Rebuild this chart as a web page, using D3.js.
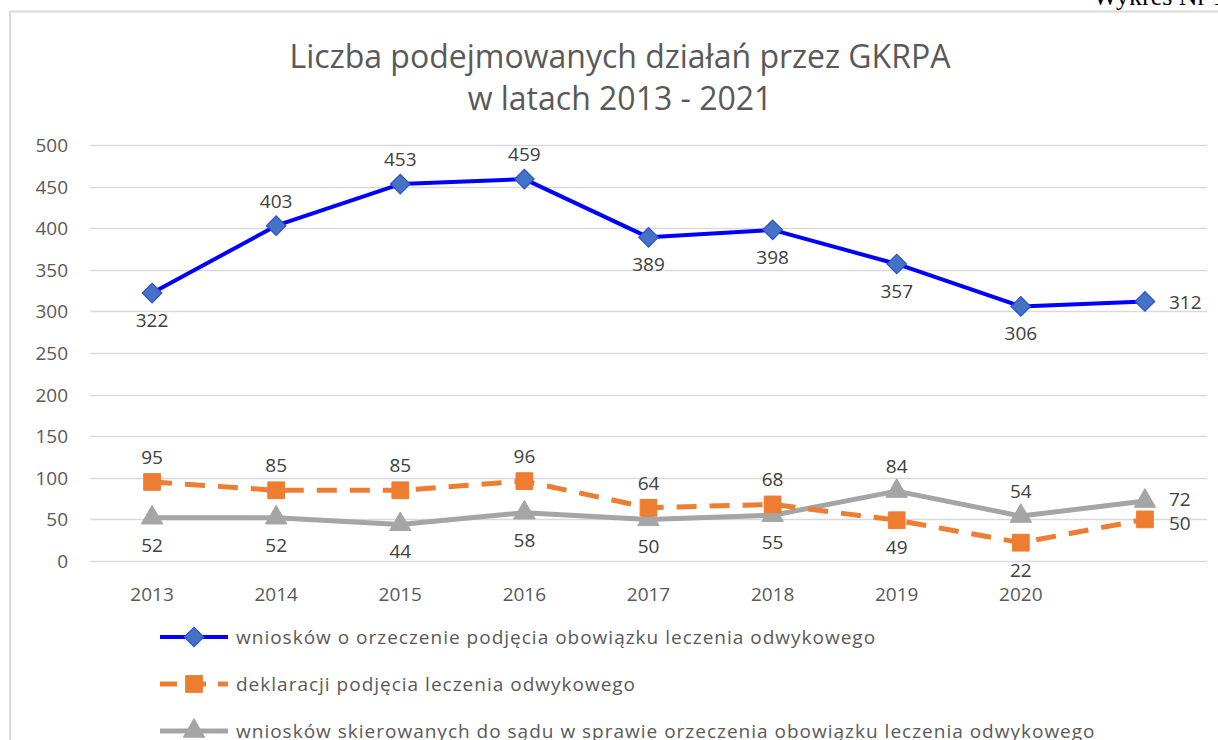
<!DOCTYPE html>
<html>
<head>
<meta charset="utf-8">
<script src="https://cdn.jsdelivr.net/npm/d3@7"></script>
<style>
  body { margin: 0; background: #fff; }
  svg { display: block; }
</style>
</head>
<body>
<div id="chart"></div>
<script>
var years = ['2013', '2014', '2015', '2016', '2017', '2018', '2019', '2020', ''];
var yTicks = [0, 50, 100, 150, 200, 250, 300, 350, 400, 450, 500];

var wnioskiOrzeczenie = [322, 403, 453, 459, 389, 398, 357, 306, 312];
var deklaracje = [95, 85, 85, 96, 64, 68, 49, 22, 50];
var wnioskiSad = [52, 52, 44, 58, 50, 55, 84, 54, 72];

// where each value label sits relative to its point
var posOrzeczenie = ['below', 'above', 'above', 'above', 'below', 'below', 'below', 'below', 'right'];
var posDeklaracje = ['above', 'above', 'above', 'above', 'above', 'above', 'below', 'below', 'right'];
var posSad = ['below', 'below', 'below', 'below', 'below', 'below', 'above', 'above', 'right'];

var titleLines = ['Liczba podejmowanych działań przez GKRPA', 'w latach 2013 - 2021'];

var series = [
  { name: 'wniosków o orzeczenie podjęcia obowiązku leczenia odwykowego',
    values: wnioskiOrzeczenie, pos: posOrzeczenie, rightShift: 0,
    color: '#0000ff', width: 4, dash: null, marker: 'diamond',
    fill: '#4472c4', stroke: '#2e4fd0' },
  { name: 'deklaracji podjęcia leczenia odwykowego',
    values: deklaracje, pos: posDeklaracje, rightShift: 3,
    color: '#ed7d31', width: 5, dash: '20,13', marker: 'square',
    fill: '#ed7d31', stroke: '#ed7d31' },
  { name: 'wniosków skierowanych do sądu w sprawie orzeczenia obowiązku leczenia odwykowego',
    values: wnioskiSad, pos: posSad, rightShift: -3,
    color: '#a5a5a5', width: 5, dash: null, marker: 'triangle',
    fill: '#a5a5a5', stroke: '#a5a5a5' }
];

var W = 1218, H = 740;
var font = '"Open Sans", sans-serif';
var margin = { top: 145, left: 90, right: 11, bottom: 179 };

var svg = d3.select('#chart').append('svg')
  .attr('width', W)
  .attr('height', H)
  .style('font-family', font);

// frame of the chart box (cut by the page edges)
svg.append('line').attr('x1', 10).attr('x2', W).attr('y1', 11.5).attr('y2', 11.5)
  .attr('stroke', '#d9d9d9').attr('stroke-width', 2);
svg.append('line').attr('x1', 10).attr('x2', 10).attr('y1', 11).attr('y2', H)
  .attr('stroke', '#d9d9d9').attr('stroke-width', 2);

svg.append('text')
  .attr('x', 1093).attr('y', 5)
  .attr('font-family', '"Liberation Serif", serif')
  .attr('font-size', 26)
  .attr('fill', '#000')
  .text('Wykres Nr 1');

svg.append('text')
  .attr('text-anchor', 'middle')
  .attr('font-size', 32)
  .attr('fill', '#595959')
  .selectAll('tspan')
  .data(titleLines)
  .enter()
  .append('tspan')
  .attr('x', 620)
  .attr('y', function (d, i) { return 68 + i * 42; })
  .text(function (d) { return d; });

var x = d3.scaleBand().domain(d3.range(years.length))
  .range([margin.left, W - margin.right]).padding(0);
var y = d3.scaleLinear().domain([0, 500])
  .range([H - margin.bottom, margin.top]);
var cx = function (i) { return x(i) + x.bandwidth() / 2; };

svg.append('g')
  .selectAll('line')
  .data(yTicks)
  .enter()
  .append('line')
  .attr('x1', margin.left).attr('x2', W - margin.right)
  .attr('y1', function (d) { return Math.round(y(d)) + 0.5; })
  .attr('y2', function (d) { return Math.round(y(d)) + 0.5; })
  .attr('stroke', '#d9d9d9')
  .attr('stroke-width', 1.5);

svg.append('g')
  .selectAll('text')
  .data(yTicks)
  .enter()
  .append('text')
  .attr('x', 68)
  .attr('y', function (d) { return y(d) + 7; })
  .attr('text-anchor', 'end')
  .attr('font-size', 19)
  .attr('fill', '#595959')
  .text(function (d) { return d; });

svg.append('g')
  .selectAll('text')
  .data(years)
  .enter()
  .append('text')
  .attr('x', function (d, i) { return cx(i); })
  .attr('y', 601)
  .attr('text-anchor', 'middle')
  .attr('font-size', 19)
  .attr('fill', '#595959')
  .text(function (d) { return d; });

var symbols = {
  diamond: d3.symbol().type(d3.symbolSquare).size(190),
  square: d3.symbol().type(d3.symbolSquare).size(280),
  triangle: d3.symbol().type(d3.symbolTriangle).size(200)
};

function drawMarker(g, s, px, py) {
  g.append('path')
    .attr('d', symbols[s.marker]())
    .attr('transform', 'translate(' + px + ',' + py + ')' + (s.marker === 'diamond' ? ' rotate(45)' : ''))
    .attr('fill', s.fill)
    .attr('stroke', s.stroke)
    .attr('stroke-width', s.marker === 'diamond' ? 1.2 : 1);
}

var line = d3.line()
  .x(function (d, i) { return cx(i); })
  .y(function (d) { return y(d); });

// grey first, then orange, then blue on top
[2, 1, 0].forEach(function (k) {
  var s = series[k];
  var g = svg.append('g');
  g.append('path')
    .datum(s.values)
    .attr('d', line)
    .attr('fill', 'none')
    .attr('stroke', s.color)
    .attr('stroke-width', s.width)
    .attr('stroke-linejoin', 'round')
    .attr('stroke-dasharray', s.dash);
  s.values.forEach(function (v, i) {
    drawMarker(g, s, cx(i), y(v));
  });
});

series.forEach(function (s) {
  svg.append('g')
    .selectAll('text')
    .data(s.values)
    .enter()
    .append('text')
    .attr('font-size', 19)
    .attr('fill', '#404040')
    .attr('text-anchor', function (d, i) { return s.pos[i] === 'right' ? 'start' : 'middle'; })
    .attr('x', function (d, i) { return s.pos[i] === 'right' ? cx(i) + 24 : cx(i); })
    .attr('y', function (d, i) {
      var p = s.pos[i];
      if (p === 'above') return y(d) - 18;
      if (p === 'below') return y(d) + 34;
      return y(d) + 8 + s.rightShift;
    })
    .text(function (d) { return d; });
});

// legend
var legend = svg.append('g');
series.forEach(function (s, i) {
  var ly = 637 + i * 47;
  var g = legend.append('g');
  g.append('line')
    .attr('x1', 160).attr('x2', 228)
    .attr('y1', ly).attr('y2', ly)
    .attr('stroke', s.color)
    .attr('stroke-width', s.width)
    .attr('stroke-dasharray', s.dash ? '17,12' : null);
  drawMarker(g, s, 194, ly);
  g.append('text')
    .attr('x', 236)
    .attr('y', ly + 7)
    .attr('font-size', 19)
    .attr('letter-spacing', 1)
    .attr('fill', '#595959')
    .text(s.name);
});
</script>
</body>
</html>
